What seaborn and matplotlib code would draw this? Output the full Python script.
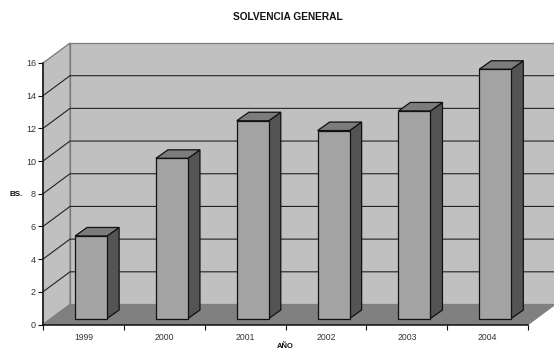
import numpy as np
import pandas as pd
import matplotlib
matplotlib.use("Agg")
import matplotlib.pyplot as plt
from matplotlib.patches import Polygon
from matplotlib.transforms import Affine2D, IdentityTransform
import seaborn as sns

years = ["1999", "2000", "2001", "2002", "2003", "2004"]
solvencia = [5.05, 9.8, 12.1, 11.5, 12.7, 15.25]
y_ticks = [0, 2, 4, 6, 8, 10, 12, 14, 16]

# Pseudo-3D depth of the chart box and of each column, in pixels
BOX_DX, BOX_DY = 27, 20
BAR_DX, BAR_DY = 12, 8.5
BAR_SHIFT = (7.7, 6)

WALL = "#c0c0c0"
FLOOR = "#808080"
BAR_FRONT = "#a3a3a3"
BAR_SIDE = "#545454"
BAR_TOP = "#7c7c7c"

sns.set_theme(style="white", rc={"font.family": ["Liberation Sans", "DejaVu Sans"]})

W, H = 554, 350
fig = plt.figure(figsize=(W / 100, H / 100), dpi=100, facecolor="white")
ax = fig.add_axes([43 / W, (H - 324.5) / H, 485 / W, 261.5 / H])
ax.set_facecolor("none")

df = pd.DataFrame({"anio": years, "solvencia": solvencia})
sns.barplot(data=df, x="anio", y="solvencia", color=BAR_FRONT, saturation=1,
            width=0.396, edgecolor="#111111", linewidth=0.9, ax=ax, zorder=5)
ax.set_xlim(-0.5, 5.5)
ax.set_ylim(0, 16)


def to_px(x, y):
    return ax.transData.transform((x, y))


def add_face(points, face, edge, lw=0.9, z=1):
    ax.add_patch(Polygon(points, closed=True, facecolor=face, edgecolor=edge,
                         linewidth=lw, transform=IdentityTransform(),
                         clip_on=False, zorder=z))


depth = np.array([BOX_DX, BOX_DY])
p00, p10 = to_px(-0.5, 0), to_px(5.5, 0)
p01, p11 = to_px(-0.5, 16), to_px(5.5, 16)

# Box: back wall, side wall and floor
add_face([p00 + depth, p10 + depth, p11 + depth, p01 + depth], WALL, "#7a7a7a", z=0.5)
add_face([p00, p00 + depth, p01 + depth, p01], WALL, "#7a7a7a", z=0.6)
add_face([p00, p10, p10 + depth, p00 + depth], FLOOR, FLOOR, z=0.7)

# Gridlines run along the side wall, then across the back wall
for v in y_ticks[1:-1]:
    a, b = to_px(-0.5, v), to_px(5.5, v)
    ax.plot([a[0], a[0] + BOX_DX, b[0] + BOX_DX],
            [a[1], a[1] + BOX_DY, b[1] + BOX_DY],
            color="#222222", lw=0.8, transform=IdentityTransform(),
            clip_on=False, zorder=0.8)

# Columns: push the seaborn bars into the box, then add side and top faces
shift = Affine2D().translate(*BAR_SHIFT)
bar_depth = np.array([BAR_DX, BAR_DY])
for bar in ax.patches:
    if not hasattr(bar, "get_width"):
        continue
    bar.set_transform(ax.transData + shift)
    bar.set_clip_on(False)
    x0, w, h = bar.get_x(), bar.get_width(), bar.get_height()
    bl = to_px(x0, 0) + BAR_SHIFT
    br = to_px(x0 + w, 0) + BAR_SHIFT
    tl = to_px(x0, h) + BAR_SHIFT
    tr = to_px(x0 + w, h) + BAR_SHIFT
    add_face([br, br + bar_depth, tr + bar_depth, tr], BAR_SIDE, "#111111", z=4)
    add_face([tl, tr, tr + bar_depth, tl + bar_depth], BAR_TOP, "#111111", z=4)

# Axes frame, ticks and text
sns.despine(ax=ax, top=True, right=True)
for side in ("left", "bottom"):
    ax.spines[side].set_color("#111111")
    ax.spines[side].set_linewidth(1.1)
    ax.spines[side].set_zorder(6)

ax.set_yticks(y_ticks)
ax.set_xticks(np.arange(-0.5, 6, 1))
ax.set_xticklabels([])
ax.set_xticks(np.arange(6), labels=years, minor=True)
ax.tick_params(axis="y", left=True, length=3.5, width=0.8, color="#111111",
               labelsize=6.5, labelcolor="#333333", pad=1.5)
ax.tick_params(axis="x", which="major", bottom=True, length=3.5, width=0.8, color="#111111")
ax.tick_params(axis="x", which="minor", bottom=False, length=0,
               labelsize=6.2, labelcolor="#333333", pad=6)

ax.set_xlabel("AÑO", fontsize=5.5, fontweight="bold", color="#111111", labelpad=0.5)
ax.set_ylabel("BS.", fontsize=5.8, fontweight="bold", color="#111111", rotation=0,
              va="center")
ax.yaxis.set_label_coords((16 - 43) / 485, (324.5 - 194) / 261.5)
ax.set_title("SOLVENCIA GENERAL", fontsize=7.3, fontweight="bold", color="#111111",
             x=(288 - 43) / 485, y=1.0, pad=31)

fig.savefig("out.png", dpi=100, facecolor="white")
